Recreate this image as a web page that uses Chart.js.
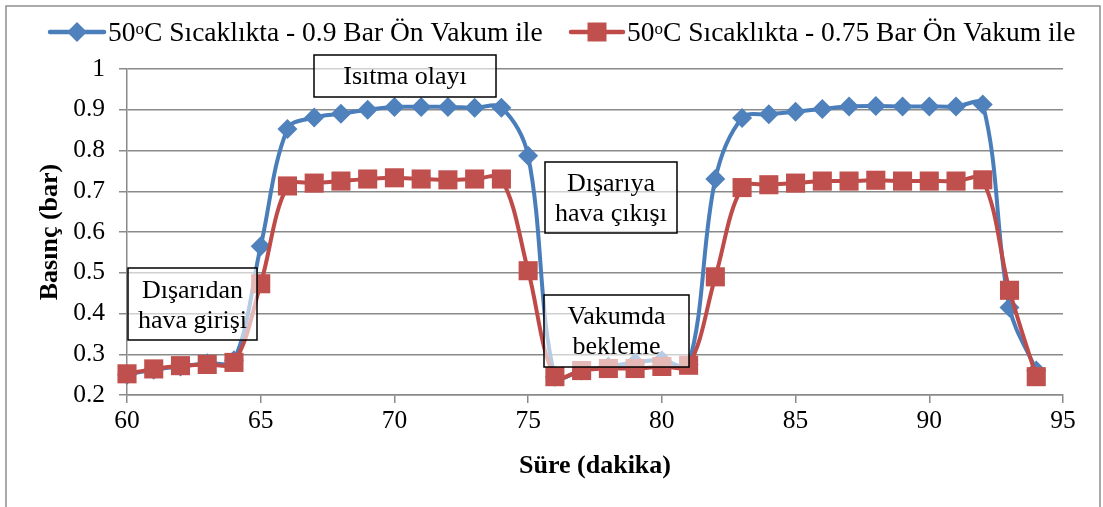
<!DOCTYPE html>
<html>
<head>
<meta charset="utf-8">
<script src="https://cdn.jsdelivr.net/npm/chart.js@4.4.1/dist/chart.umd.min.js"></script>
<style>
  html, body { margin: 0; padding: 0; background: #ffffff; }
  #wrap { width: 1103px; height: 507px; }
</style>
</head>
<body>
<div id="wrap"><canvas id="c" width="1103" height="507"></canvas></div>
<script>
// ---- data ----
const minutes = [60,61,62,63,64,65,66,67,68,69,70,71,72,73,74,75,76,77,78,79,80,81,82,83,84,85,86,87,88,89,90,91,92,93,94];
const series09 = [0.250,0.262,0.270,0.278,0.285,0.565,0.853,0.881,0.890,0.900,0.907,0.907,0.907,0.905,0.905,0.787,0.245,0.260,0.270,0.280,0.285,0.275,0.730,0.880,0.889,0.895,0.902,0.908,0.909,0.908,0.908,0.908,0.913,0.415,0.260];
const series075 = [0.252,0.264,0.272,0.275,0.280,0.473,0.713,0.720,0.725,0.730,0.733,0.730,0.728,0.730,0.730,0.505,0.245,0.260,0.265,0.265,0.270,0.273,0.490,0.709,0.716,0.720,0.725,0.725,0.727,0.725,0.725,0.725,0.728,0.457,0.245];
const seriesNames = ["C Sıcaklıkta - 0.9 Bar Ön Vakum ile", "C Sıcaklıkta - 0.75 Bar Ön Vakum ile"];
const seriesPrefix = "50";
const xTitle = "Süre (dakika)";
const yTitle = "Basınç (bar)";
const xMin = 60, xMax = 95, xStep = 5;
const yMin = 0.2, yMax = 1, yStep = 0.1;
const notes = [
  ["Isıtma olayı"],
  ["Dışarıdan", "hava girişi"],
  ["Dışarıya", "hava çıkışı"],
  ["Vakumda", "bekleme"]
];

const BLUE_LINE = '#4a7ebb', BLUE_PT = '#4f81bd';
const RED_LINE = '#be4b48', RED_PT = '#c0504d';
const GRID = '#8a8a8a';
const SERIF = '"Liberation Serif", "Times New Roman", serif';

const toPts = (ys) => minutes.map((m, i) => ({x: m, y: ys[i]}));

const decorPlugin = {
  id: 'decor',
  afterDatasetsDraw(chart) {
    const ctx = chart.ctx;
    const boxes = [
      {x: 314, y: 55, w: 182, h: 42, lines: notes[0], cy: [77]},
      {x: 128, y: 268, w: 129, h: 72, lines: notes[1], cy: [291, 321]},
      {x: 545, y: 162, w: 132, h: 71, lines: notes[2], cy: [184, 214]},
      {x: 544, y: 295, w: 145, h: 72, lines: notes[3], cy: [317, 347]}
    ];
    ctx.save();
    boxes.forEach(b => {
      ctx.fillStyle = 'rgba(255,255,255,0.6)';
      ctx.fillRect(b.x, b.y, b.w, b.h);
      ctx.strokeStyle = '#000';
      ctx.lineWidth = 1.5;
      ctx.strokeRect(b.x, b.y, b.w, b.h);
      ctx.fillStyle = '#000';
      ctx.font = '26px ' + SERIF;
      ctx.textAlign = 'center';
      ctx.textBaseline = 'middle';
      b.lines.forEach((t, i) => ctx.fillText(t, b.x + b.w / 2, b.cy[i]));
    });
    ctx.restore();
  },
  afterDraw(chart) {
    const ctx = chart.ctx;
    ctx.save();
    ctx.strokeStyle = '#8e8e8e';
    ctx.lineWidth = 1.5;
    ctx.strokeRect(6, 6, 1094, 530);
    const items = [
      {x0: 50, x1: 104, color: BLUE_LINE, pt: BLUE_PT, style: 'diamond', text: seriesNames[0]},
      {x0: 571, x1: 623, color: RED_LINE, pt: RED_PT, style: 'square', text: seriesNames[1]}
    ];
    const ly = 32;
    items.forEach(it => {
      ctx.strokeStyle = it.color;
      ctx.lineWidth = 4.5;
      ctx.lineCap = 'round';
      ctx.beginPath(); ctx.moveTo(it.x0, ly); ctx.lineTo(it.x1, ly); ctx.stroke();
      const cx = (it.x0 + it.x1) / 2;
      ctx.fillStyle = it.pt;
      ctx.beginPath();
      if (it.style === 'diamond') {
        ctx.moveTo(cx, ly - 10); ctx.lineTo(cx + 10, ly); ctx.lineTo(cx, ly + 10); ctx.lineTo(cx - 10, ly);
        ctx.closePath();
      } else {
        ctx.rect(cx - 9.5, ly - 9.5, 19, 19);
      }
      ctx.fill();
      let tx = it.x1 + 4;
      ctx.fillStyle = '#000';
      ctx.textAlign = 'left';
      ctx.textBaseline = 'alphabetic';
      const base = ly + 9;
      ctx.font = '27.5px ' + SERIF;
      ctx.fillText(seriesPrefix, tx, base);
      tx += ctx.measureText(seriesPrefix).width;
      ctx.font = '17px ' + SERIF;
      ctx.fillText('o', tx, base - 7);
      tx += ctx.measureText('o').width;
      ctx.font = '27.5px ' + SERIF;
      ctx.fillText(it.text, tx, base);
    });
    ctx.restore();
  }
};

new Chart(document.getElementById('c'), {
  type: 'line',
  data: {
    datasets: [
      {
        label: seriesPrefix + 'o' + seriesNames[0],
        data: toPts(series09),
        borderColor: BLUE_LINE,
        backgroundColor: BLUE_PT,
        borderWidth: 4,
        pointStyle: 'rectRot',
        pointRadius: 10,
        pointBorderWidth: 0,
        pointBackgroundColor: BLUE_PT,
        tension: 0.35,
        clip: false,
        order: 1
      },
      {
        label: seriesPrefix + 'o' + seriesNames[1],
        data: toPts(series075),
        borderColor: RED_LINE,
        backgroundColor: RED_PT,
        borderWidth: 4,
        pointStyle: 'rect',
        pointRadius: 13.5,
        pointBorderWidth: 0,
        pointBackgroundColor: RED_PT,
        tension: 0.35,
        clip: false,
        order: 0
      }
    ]
  },
  options: {
    responsive: false,
    animation: false,
    events: [],
    layout: { padding: { top: 69, right: 40, left: 0, bottom: 0 } },
    plugins: { legend: { display: false }, tooltip: { enabled: false } },
    scales: {
      x: {
        type: 'linear',
        min: xMin, max: xMax,
        ticks: { stepSize: xStep, color: '#000', font: { family: SERIF, size: 25.5 }, padding: 3, maxRotation: 0 },
        grid: { drawOnChartArea: false, drawTicks: true, tickLength: 8, color: GRID, lineWidth: 1.5 },
        border: { color: GRID, width: 1.5 },
        title: { display: true, text: xTitle, color: '#000', font: { family: SERIF, size: 26, weight: 'bold' }, padding: { top: 0, bottom: 25 } },
        afterFit: s => { s.height = 112; }
      },
      y: {
        min: yMin, max: yMax,
        ticks: { stepSize: yStep, color: '#000', font: { family: SERIF, size: 25.5 }, padding: 14,
                 callback: v => String(Math.round(v * 10) / 10) },
        grid: { color: GRID, lineWidth: 1.5, tickLength: 8 },
        border: { color: GRID, width: 1.5 },
        title: { display: true, text: yTitle, color: '#000', font: { family: SERIF, size: 26, weight: 'bold' }, padding: { top: 35, bottom: 0 } },
        afterFit: s => { s.width = 127; }
      }
    }
  },
  plugins: [decorPlugin]
});
</script>
</body>
</html>
